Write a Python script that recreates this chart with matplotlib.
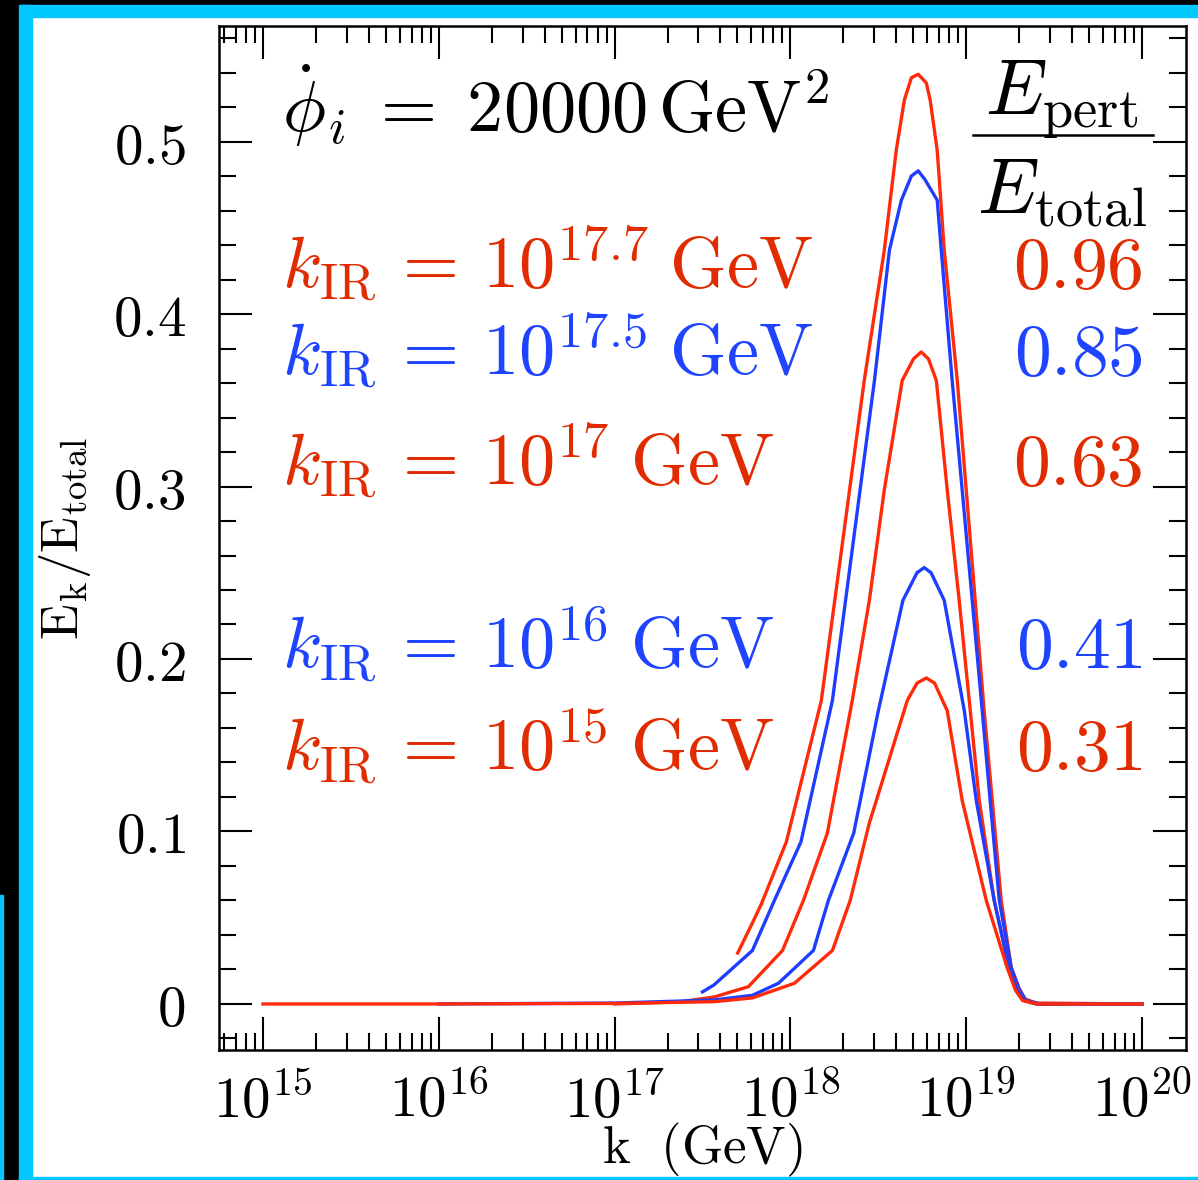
import numpy as np
import matplotlib
matplotlib.use('Agg')
import matplotlib.pyplot as plt
from matplotlib.patches import Rectangle
from matplotlib.ticker import FixedLocator, MultipleLocator, FuncFormatter, LogLocator, NullFormatter

plt.rcParams['mathtext.fontset'] = 'cm'
plt.rcParams['font.family'] = 'serif'

# spectra: log10(k/GeV) and E_k/E_total
logk_177 = [17.70, 17.784, 17.835, 17.977, 18.176, 18.42, 18.534, 18.602, 18.648, 18.688, 18.727,
            18.773, 18.795, 18.835, 18.875, 18.949, 19.0, 19.051, 19.102, 19.148, 19.199, 19.256,
            19.30, 19.33, 19.40, 20.0]
val_177 = [0.0295, 0.047, 0.058, 0.094, 0.176, 0.3615, 0.437, 0.495, 0.524, 0.537, 0.539,
           0.534, 0.524, 0.495, 0.437, 0.3615, 0.298, 0.234, 0.170, 0.118, 0.060, 0.021,
           0.009, 0.003, 0.0005, 0.0]

logk_175 = [17.5, 17.565, 17.784, 17.909, 18.06, 18.239, 18.478, 18.563, 18.631, 18.688, 18.727,
            18.765, 18.835, 18.858, 18.92, 18.977, 19.034, 19.091, 19.136, 19.188, 19.256,
            19.30, 19.34, 19.42, 20.0]
val_175 = [0.007, 0.011, 0.031, 0.060, 0.094, 0.176, 0.3615, 0.437, 0.466, 0.480, 0.483,
           0.478, 0.466, 0.437, 0.3615, 0.298, 0.234, 0.170, 0.118, 0.060, 0.021,
           0.009, 0.002, 0.0, 0.0]

logk_17 = [17.0, 17.369, 17.565, 17.761, 17.955, 18.074, 18.21, 18.352, 18.449, 18.534, 18.636,
           18.70, 18.744, 18.785, 18.83, 18.892, 18.96, 19.023, 19.074, 19.159, 19.244,
           19.29, 19.33, 19.40, 20.0]
val_17 = [0.0, 0.0012, 0.004, 0.010, 0.031, 0.060, 0.099, 0.176, 0.234, 0.298, 0.3615,
          0.374, 0.378, 0.374, 0.3615, 0.298, 0.234, 0.170, 0.118, 0.060, 0.021,
          0.009, 0.002, 0.0, 0.0]

logk_16 = [16.0, 17.0, 17.565, 17.784, 17.932, 18.131, 18.216, 18.36, 18.50, 18.64, 18.72,
           18.761, 18.80, 18.875, 18.989, 19.057, 19.159, 19.244, 19.29, 19.33, 19.40, 20.0]
val_16 = [0.0, 0.0005, 0.0023, 0.005, 0.012, 0.031, 0.060, 0.099, 0.170, 0.234, 0.250,
          0.253, 0.250, 0.234, 0.170, 0.118, 0.060, 0.021, 0.008, 0.002, 0.0, 0.0]

logk_15 = [15.0, 16.0, 17.0, 17.565, 17.784, 18.023, 18.239, 18.34, 18.449, 18.489, 18.665,
           18.72, 18.773, 18.82, 18.892, 18.977, 19.114, 19.233, 19.28, 19.32, 19.40, 20.0]
val_15 = [0.0, 0.0, 0.0003, 0.0013, 0.0035, 0.012, 0.031, 0.060, 0.105, 0.118, 0.176,
          0.186, 0.189, 0.186, 0.170, 0.118, 0.060, 0.021, 0.008, 0.002, 0.0, 0.0]

red = '#ff2a0a'
blue = '#1f3dff'
red_txt = '#e02c00'
blue_txt = '#1f44ff'

curves = [(logk_177, val_177, red), (logk_175, val_175, blue), (logk_17, val_17, red),
          (logk_16, val_16, blue), (logk_15, val_15, red)]

labels = [(r'$k_{\rm IR}\,=\,10^{17.7}\;\mathrm{GeV}$', '0.96', red_txt, 288),
          (r'$k_{\rm IR}\,=\,10^{17.5}\;\mathrm{GeV}$', '0.85', blue_txt, 375),
          (r'$k_{\rm IR}\,=\,10^{17}\;\mathrm{GeV}$', '0.63', red_txt, 485),
          (r'$k_{\rm IR}\,=\,10^{16}\;\mathrm{GeV}$', '0.41', blue_txt, 668),
          (r'$k_{\rm IR}\,=\,10^{15}\;\mathrm{GeV}$', '0.31', red_txt, 770)]

W, H = 1198, 1180
fig = plt.figure(figsize=(W / 100, H / 100), dpi=100)
fig.patch.set_facecolor('white')

# frame strips around the picture
cyan = '#00c8ff'
for x0, y0, w, h, c in [(0, 0, W, 5, 'black'), (19, 5, W - 19, 12, cyan),
                        (0, 0, 19, H, 'black'), (19, 5, 13, H - 5, cyan),
                        (0, 895, 3, H - 895, cyan), (19, 1177, W - 19, 3, cyan)]:
    fig.patches.append(Rectangle((x0 / W, 1 - (y0 + h) / H), w / W, h / H,
                                 transform=fig.transFigure, color=c, zorder=0))

ax = fig.add_axes([219 / W, 1 - 1050 / H, 967 / W, 1024 / H])
for lk, v, c in curves:
    ax.plot(10 ** np.array(lk), v, color=c, lw=2.4)

ax.set_xscale('log')
ax.set_xlim(10 ** 14.75, 10 ** 20.25)
ax.set_ylim(-0.0267, 0.567)

ax.xaxis.set_major_locator(LogLocator(base=10, numticks=20))
ax.xaxis.set_minor_locator(LogLocator(base=10, subs=np.arange(2, 10), numticks=20))
ax.xaxis.set_minor_formatter(NullFormatter())
ax.xaxis.set_major_formatter(FuncFormatter(lambda v, p: r'$10^{%d}$' % round(np.log10(v))))
ax.yaxis.set_major_locator(FixedLocator([0, 0.1, 0.2, 0.3, 0.4, 0.5]))
ax.yaxis.set_minor_locator(MultipleLocator(0.02))
ax.yaxis.set_major_formatter(FuncFormatter(lambda v, p: '$0$' if abs(v) < 1e-9 else r'$%.1f$' % v))

ax.tick_params(which='both', direction='in', top=True, right=True, width=1.5, colors='black')
ax.tick_params(which='major', length=24, labelsize=41)
ax.tick_params(which='minor', length=12)
ax.tick_params(axis='y', which='major', pad=24)
ax.tick_params(axis='x', which='major', pad=17)
for s in ax.spines.values():
    s.set_linewidth(1.8)

ax.set_xlabel(r'$\mathrm{k\ \ (GeV)}$', fontsize=38, labelpad=-6)
ax.set_ylabel(r'$\mathrm{E_k/E_{total}}$', fontsize=38, labelpad=14)

def fy(ypix):
    return 1 - ypix / H

def fx(xpix):
    return xpix / W

fig.text(fx(282), fy(132), r'$\dot\phi_i\;=\;20000\,\mathrm{GeV}^2$', fontsize=52, va='baseline', ha='left')
fig.text(fx(1062), fy(115), r'$E_{\rm pert}$', fontsize=56, va='baseline', ha='center')
fig.text(fx(1062), fy(213), r'$E_{\rm total}$', fontsize=56, va='baseline', ha='center')
fig.add_artist(plt.Line2D([fx(973), fx(1153)], [fy(135), fy(135)], transform=fig.transFigure,
                          color='black', lw=1.8))

for lab, frac, c, yb in labels:
    fig.text(fx(282), fy(yb), lab, fontsize=52, color=c, va='baseline', ha='left')
    fig.text(fx(1143), fy(yb), '$' + frac + '$', fontsize=53, color=c, va='baseline', ha='right')

fig.savefig('out.png', dpi=100)
